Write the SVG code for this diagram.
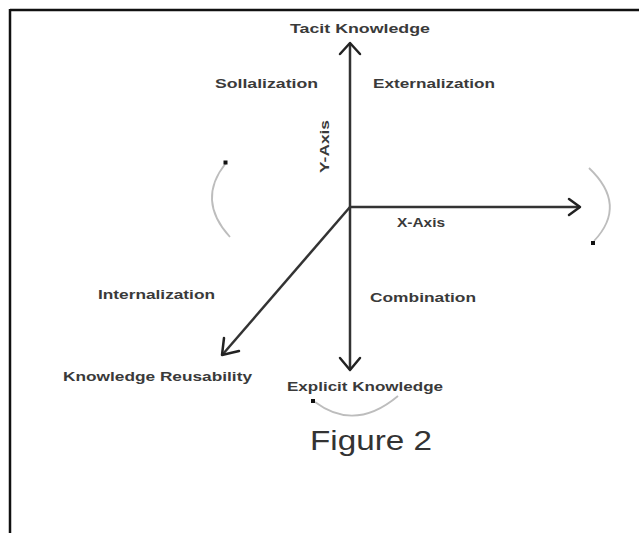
<svg xmlns="http://www.w3.org/2000/svg" width="639" height="533" viewBox="0 0 639 533">
<defs>
<style>
.lbl{font-family:"Liberation Sans",Arial,sans-serif;font-size:13px;font-weight:bold;fill:#3a3a3a}
.axis{stroke:#333;stroke-width:2.5;fill:none}
.head{stroke:#222;stroke-width:2.5;fill:none;stroke-linecap:round;stroke-linejoin:round}
.arc{stroke:#bdbdbd;stroke-width:1.8;fill:none}
.dot{fill:#111}
</style>
</defs>
<rect width="639" height="533" fill="#fff"/>
<g id="frame">
<line x1="10" y1="10" x2="639" y2="10" stroke="#111" stroke-width="2.5"/>
<line x1="10" y1="9" x2="10" y2="533" stroke="#111" stroke-width="2.5"/>
</g>
<g id="connectors">
<line class="axis" x1="350" y1="207" x2="350" y2="44"/>
<polyline class="head" points="340,54 350,43 360,54"/>
<line class="axis" x1="350" y1="207" x2="580" y2="207"/>
<polyline class="head" points="569,199 580,207 569,215"/>
<line class="axis" x1="350" y1="207" x2="350" y2="370"/>
<polyline class="head" points="340,358 350,370 360,358"/>
<line class="axis" x1="350" y1="207" x2="223" y2="354" stroke-width="2"/>
<polyline class="head" points="224,338 222,355 239,351" stroke-width="2"/>
</g>
<g id="cycle-arcs">
<path class="arc" d="M230,237 Q196,200 226,163"/>
<rect class="dot" x="223.5" y="160.5" width="4" height="4"/>
<path class="arc" d="M589,168 Q628,205 594,241"/>
<rect class="dot" x="591" y="241" width="4" height="4"/>
<path class="arc" d="M315,402 Q355,432 398,396"/>
<rect class="dot" x="311" y="399" width="4" height="4"/>
</g>
<g id="node-tacit"><text class="lbl" x="290" y="33" textLength="140" lengthAdjust="spacingAndGlyphs">Tacit Knowledge</text></g>
<g id="node-socialization"><text class="lbl" x="215" y="88" textLength="103" lengthAdjust="spacingAndGlyphs">Sollalization</text></g>
<g id="node-externalization"><text class="lbl" x="373" y="88" textLength="122" lengthAdjust="spacingAndGlyphs">Externalization</text></g>
<g id="node-yaxis"><text class="lbl" x="0" y="0" textLength="53" lengthAdjust="spacingAndGlyphs" transform="translate(329,173) rotate(-90)">Y-Axis</text></g>
<g id="node-xaxis"><text class="lbl" x="397" y="227" textLength="48" lengthAdjust="spacingAndGlyphs">X-Axis</text></g>
<g id="node-internalization"><text class="lbl" x="98" y="299" textLength="117" lengthAdjust="spacingAndGlyphs">Internalization</text></g>
<g id="node-combination"><text class="lbl" x="370" y="302" textLength="106" lengthAdjust="spacingAndGlyphs">Combination</text></g>
<g id="node-reusability"><text class="lbl" x="63" y="381" textLength="189" lengthAdjust="spacingAndGlyphs">Knowledge Reusability</text></g>
<g id="node-explicit"><text class="lbl" x="287" y="391" textLength="156" lengthAdjust="spacingAndGlyphs">Explicit Knowledge</text></g>
<g id="caption"><text x="310" y="450" font-family="Liberation Sans,Arial,sans-serif" font-size="28" fill="#333" textLength="122" lengthAdjust="spacingAndGlyphs">Figure 2</text></g>
</svg>
